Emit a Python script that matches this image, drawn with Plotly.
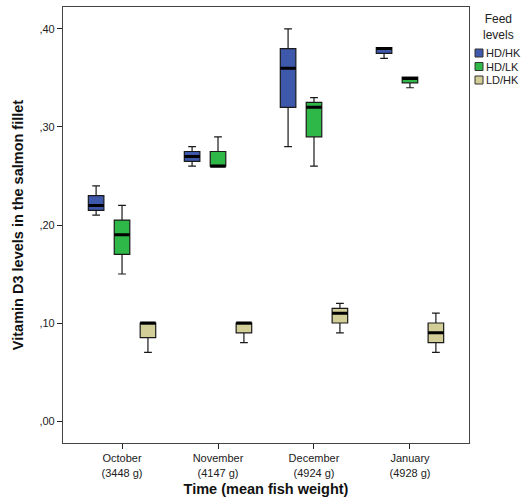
import plotly.graph_objects as go

# ---- data ----
months = ["October<br>(3448 g)", "November<br>(4147 g)", "December<br>(4924 g)", "January<br>(4928 g)"]
series_names = ["HD/HK", "HD/LK", "LD/HK"]

hdhk_lower = [0.21, 0.26, 0.28, 0.37]
hdhk_q1 = [0.215, 0.265, 0.32, 0.375]
hdhk_median = [0.22, 0.27, 0.36, 0.38]
hdhk_q3 = [0.23, 0.275, 0.38, 0.381]
hdhk_upper = [0.24, 0.28, 0.40, 0.381]

hdlk_lower = [0.15, 0.26, 0.26, 0.34]
hdlk_q1 = [0.17, 0.26, 0.29, 0.345]
hdlk_median = [0.19, 0.26, 0.32, 0.3495]
hdlk_q3 = [0.205, 0.275, 0.325, 0.351]
hdlk_upper = [0.22, 0.29, 0.33, 0.351]

ldhk_lower = [0.07, 0.08, 0.09, 0.07]
ldhk_q1 = [0.085, 0.09, 0.10, 0.08]
ldhk_median = [0.10, 0.10, 0.11, 0.09]
ldhk_q3 = [0.10, 0.10, 0.115, 0.10]
ldhk_upper = [0.10, 0.10, 0.12, 0.11]

ytick_vals = [0.0, 0.1, 0.2, 0.3, 0.4]
ytick_text = [",00", ",10", ",20", ",30", ",40"]

colors = ["#3E58AC", "#2EB848", "#D3CE97"]

stats = [
    (hdhk_lower, hdhk_q1, hdhk_median, hdhk_q3, hdhk_upper),
    (hdlk_lower, hdlk_q1, hdlk_median, hdlk_q3, hdlk_upper),
    (ldhk_lower, ldhk_q1, ldhk_median, ldhk_q3, ldhk_upper),
]

W, H = 528, 504
ML, MR, MT, MB = 63, 59, 7, 61
PW, PH = W - ML - MR, H - MT - MB

fig = go.Figure()
for i, (name, col, st) in enumerate(zip(series_names, colors, stats)):
    lo, q1, med, q3, up = st
    fig.add_trace(go.Box(
        name=name, x=months, q1=q1, median=med, q3=q3,
        lowerfence=lo, upperfence=up,
        fillcolor=col, line=dict(color="#1a1a1a", width=1.2),
        whiskerwidth=0.5, offsetgroup=name, showlegend=False,
        boxpoints=False, hoverinfo="skip",
    ))
    # thick median line
    fig.add_trace(go.Box(
        name=name + " median", x=months, q1=med, median=med, q3=med,
        lowerfence=med, upperfence=med,
        fillcolor="rgba(0,0,0,0)", line=dict(color="#000000", width=3),
        whiskerwidth=0, offsetgroup=name, showlegend=False,
        boxpoints=False, hoverinfo="skip",
    ))

def px_x(px):
    return (px - ML) / PW

def px_y(py):
    return (H - MB - py) / PH

font = "Liberation Sans, Arial, sans-serif"

annotations = [
    dict(text="Feed<br>levels", x=px_x(498), y=px_y(27), xref="paper", yref="paper",
         xanchor="center", yanchor="middle",
         showarrow=False, font=dict(family=font, size=12, color="#222"), align="center"),
]
shapes = []
for i, (name, col) in enumerate(zip(series_names, colors)):
    cy = 53 + i * 13.5
    shapes.append(dict(type="rect", xref="paper", yref="paper",
                       x0=px_x(475), x1=px_x(483), y0=px_y(cy + 4), y1=px_y(cy - 4),
                       fillcolor=col, line=dict(color="#333", width=1)))
    annotations.append(dict(text=name, x=px_x(484), y=px_y(cy), xref="paper", yref="paper",
                            xanchor="left", yanchor="middle", showarrow=False,
                            font=dict(family=font, size=11, color="#222")))

fig.update_layout(
    width=W, height=H,
    margin=dict(l=ML, r=MR, t=MT, b=MB),
    paper_bgcolor="white", plot_bgcolor="white",
    boxmode="group", boxgap=0.19, boxgroupgap=0.4,
    font=dict(family=font, size=11, color="#222"),
    showlegend=False,
    annotations=annotations, shapes=shapes,
    xaxis=dict(
        type="category", range=[-0.615, 3.615],
        showgrid=False, zeroline=False,
        showline=True, mirror=True, linecolor="#444", linewidth=1.2,
        ticks="outside", ticklen=5, tickcolor="#222",
        tickfont=dict(family=font, size=11, color="#222"),
        title=dict(text="<b>Time (mean fish weight)</b>", standoff=6,
                   font=dict(family=font, size=14.5, color="#111")),
        automargin=False,
    ),
    yaxis=dict(
        range=[-0.0224, 0.4224],
        tickvals=ytick_vals, ticktext=ytick_text,
        showgrid=False, zeroline=False,
        showline=True, mirror=True, linecolor="#444", linewidth=1.2,
        ticks="outside", ticklen=5, tickcolor="#222",
        tickfont=dict(family=font, size=11, color="#222"),
        title=dict(text="<b>Vitamin D3 levels in the salmon fillet</b>", standoff=12,
                   font=dict(family=font, size=14.5, color="#111")),
        automargin=False,
    ),
)

fig.write_html("out.html", config={"displayModeBar": False},
               post_script="document.body.style.margin='0';")
